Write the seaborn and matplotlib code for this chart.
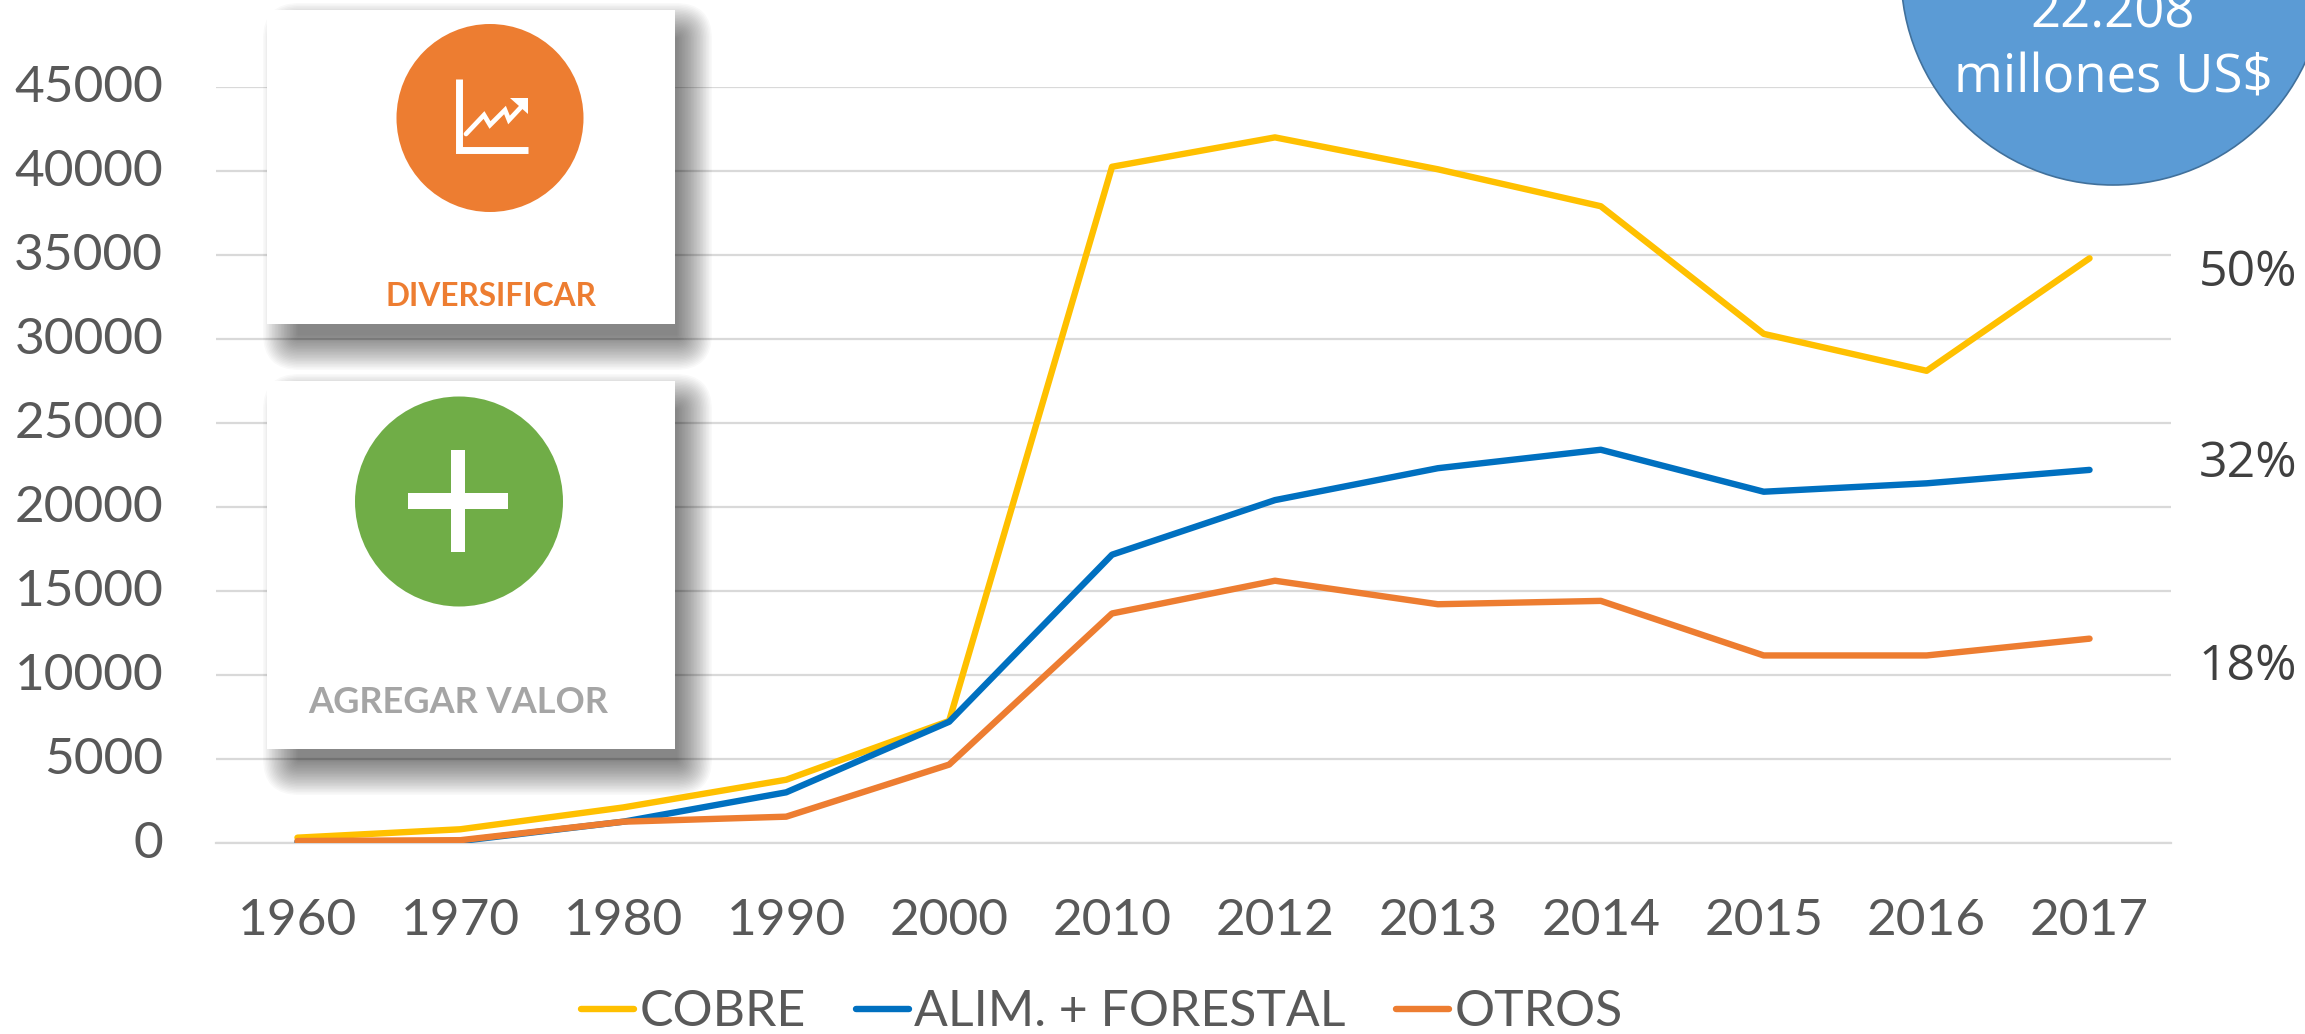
import matplotlib
matplotlib.use("Agg")
import matplotlib.pyplot as plt
from matplotlib.patches import Rectangle, Ellipse, Circle, Polygon, FancyBboxPatch
from matplotlib.transforms import ScaledTranslation
import pandas as pd
import seaborn as sns

years = ["1960", "1970", "1980", "1990", "2000", "2010", "2012", "2013", "2014", "2015", "2016", "2017"]
cobre = [300, 800, 2100, 3750, 7250, 40250, 42000, 40100, 37900, 30300, 28100, 34800]
alim = [50, 100, 1250, 3000, 7200, 17150, 20400, 22300, 23400, 20900, 21400, 22200]
otros = [100, 150, 1250, 1550, 4650, 13650, 15600, 14200, 14400, 11150, 11150, 12150]
series_names = ["COBRE", "ALIM. + FORESTAL", "OTROS"]
series_colors = ["#FFC000", "#0070C0", "#ED7D31"]
y_ticks = [0, 5000, 10000, 15000, 20000, 25000, 30000, 35000, 40000, 45000]
shares = [("50%", 273), ("32%", 464), ("18%", 667)]

W, H = 2305, 1034

sns.set_theme(style="white")
plt.rcParams["font.family"] = ["Lato", "DejaVu Sans"]

df = pd.DataFrame({"year": years * 3,
                   "value": cobre + alim + otros,
                   "serie": [n for n in series_names for _ in years]})

fig = plt.figure(figsize=(W / 100, H / 100), dpi=100, facecolor="white")
ax = fig.add_axes([216 / W, 1 - 842.7 / H, (2171 - 216) / W, (842.7 - 87) / H])

sns.lineplot(data=df, x="year", y="value", hue="serie", hue_order=series_names,
             palette=series_colors, linewidth=4.6, sort=False, errorbar=None, ax=ax,
             legend=True, zorder=3)

ax.set_xlim(-0.5, 11.5)
ax.set_ylim(0, 45000)
ax.set_yticks(y_ticks)
ax.set_xlabel("")
ax.set_ylabel("")
ax.yaxis.grid(True, color="#D9D9D9", linewidth=1.6)
ax.set_axisbelow(True)
sns.despine(ax=ax, left=True, bottom=True)
ax.spines["bottom"].set_visible(True)
ax.spines["bottom"].set_color("#D9D9D9")
ax.spines["bottom"].set_linewidth(1.6)
ax.tick_params(axis="y", length=0, pad=38, labelsize=37, labelcolor="#595959")
ax.tick_params(axis="x", length=0, pad=40, labelsize=37, labelcolor="#595959")

# y labels sit a little above their gridlines
up = ScaledTranslation(0, 2.2 / 72, fig.dpi_scale_trans)
for lbl in ax.get_yticklabels():
    lbl.set_transform(lbl.get_transform() + up)

handles, labels = ax.get_legend_handles_labels()
ax.legend(handles, labels, loc="center", bbox_to_anchor=(1102 / W, 1 - 1012 / H),
          bbox_transform=fig.transFigure, ncol=3, frameon=False, fontsize=36,
          labelcolor="#595959", handlelength=1.05, handletextpad=0.12, columnspacing=1.0,
          borderpad=0, borderaxespad=0)

# overlay in pixel coordinates for the pasted cards and badge
ov = fig.add_axes([0, 0, 1, 1], zorder=5)
ov.set_xlim(0, W)
ov.set_ylim(H, 0)
ov.axis("off")
ov.patch.set_alpha(0)


def card(x0, y0, x1, y1):
    # soft shadow: nested rounded boxes, each one a bit darker towards the middle
    n = 24
    for i in range(n):
        inset = 1.5 * i
        ov.add_patch(FancyBboxPatch((x0 - 4 + inset, y0 - 7 + inset),
                                    x1 - x0 + 41 - 2 * inset, y1 - y0 + 53 - 2 * inset,
                                    boxstyle="round,pad=0,rounding_size=%.1f" % (36 - inset),
                                    fc="black", ec="none", alpha=0.022, zorder=2))
    ov.add_patch(Rectangle((x0, y0), x1 - x0, y1 - y0, fc="white", ec="none", zorder=3))


card(267, 10, 675, 324)
card(267, 381, 675, 749)

ov.add_patch(Ellipse((490, 118), 187, 188, fc="#ED7D31", ec="none", zorder=4))
ov.add_patch(Ellipse((459, 501.5), 208, 210, fc="#70AD47", ec="none", zorder=4))

# chart icon
ov.plot([458.5, 458.5, 528], [79, 150, 150], color="white", lw=5, solid_joinstyle="miter",
        solid_capstyle="butt", zorder=5)
ov.plot([466, 484, 490, 505, 509, 524], [134, 115, 125, 110, 120, 104], color="white", lw=3.4,
        solid_joinstyle="miter", zorder=5)
ov.add_patch(Polygon([(510, 98), (528, 98), (528, 114)], fc="white", ec="none", zorder=5))

# plus icon
ov.add_patch(Rectangle((408, 493), 100, 16, fc="white", ec="none", zorder=5))
ov.add_patch(Rectangle((451, 450), 14, 102, fc="white", ec="none", zorder=5))

ov.text(491, 306, "DIVERSIFICAR", color="#ED7D31", fontsize=22.8, fontweight="bold",
        ha="center", va="baseline", zorder=5)
ov.text(458, 713, "AGREGAR VALOR", color="#A5A5A5", fontsize=26, fontweight="bold",
        ha="center", va="baseline", zorder=5)

# blue badge, cut by the top edge
ov.add_patch(Circle((2113, -27), 212, fc="#5B9BD5", ec="#41719C", lw=1.2, zorder=4))
ov.text(2113, 28, "22.208", color="white", fontsize=38, family="Open Sans", ha="center",
        va="baseline", zorder=5)
ov.text(2113, 93, "millones US$", color="white", fontsize=38, family="Open Sans", ha="center",
        va="baseline", zorder=5)

for txt, yc in shares:
    ov.text(2248, yc, txt, color="#404040", fontsize=36, family="Open Sans", ha="center",
            va="center", zorder=5)

fig.savefig("out.png", dpi=100)
